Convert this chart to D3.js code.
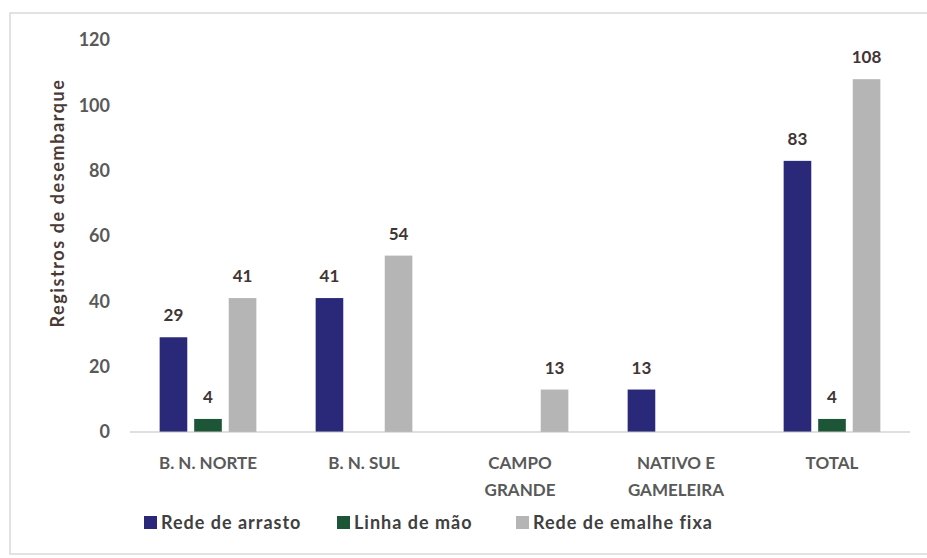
<!DOCTYPE html>
<html>
<head>
<meta charset="utf-8">
<script src="https://cdn.jsdelivr.net/npm/d3@7"></script>
<style>
  body { margin: 0; background: #fff; }
  svg { display: block; font-family: Lato, "Open Sans", sans-serif; }
</style>
</head>
<body>
<svg width="927" height="558"></svg>
<script>
// data
var categories = [['B. N. NORTE'], ['B. N. SUL'], ['CAMPO', 'GRANDE'], ['NATIVO E', 'GAMELEIRA'], ['TOTAL']];
var seriesNames = ['Rede de arrasto', 'Linha de mão', 'Rede de emalhe fixa'];
var redeArrasto = [29, 41, null, 13, 83];
var linhaMao = [4, null, null, null, 4];
var redeEmalhe = [41, 54, 13, null, 108];
var yTicks = [0, 20, 40, 60, 80, 100, 120];
var colors = ['#2a2878', '#1d5637', '#b5b5b5'];

var svg = d3.select('svg');
var plotL = 130, plotR = 910, plotT = 40, plotB = 432;

svg.append('rect')
   .attr('x', 10).attr('y', 13).attr('width', 930).attr('height', 541)
   .attr('fill', 'none').attr('stroke', '#d9d9d9').attr('stroke-width', 1.5);

var keys = categories.map(function(c){ return c.join(' '); });
var x0 = d3.scaleBand().domain(keys).range([plotL, plotR]).paddingInner(0.38).paddingOuter(0.19);
var x1 = d3.scaleBand().domain([0, 1, 2]).range([0, x0.bandwidth()]).paddingInner(0.2);
var y = d3.scaleLinear().domain([0, 120]).range([plotB, plotT]);

var series = [redeArrasto, linhaMao, redeEmalhe];

// y axis labels, no line
var yAxis = svg.append('g')
   .attr('transform', 'translate(' + (plotL - 20) + ',0)')
   .call(d3.axisLeft(y).tickValues(yTicks).tickSize(0).tickPadding(0));
yAxis.select('.domain').remove();
yAxis.selectAll('text')
   .attr('fill', '#595959').attr('font-size', 18).attr('font-weight', 700)
   .attr('font-family', 'Lato, sans-serif');

svg.append('text')
   .attr('transform', 'translate(64,203) rotate(-90)')
   .attr('text-anchor', 'middle')
   .attr('fill', '#4a3a36').attr('font-size', 18).attr('font-weight', 700)
   .attr('letter-spacing', 1.6)
   .text('Registros de desembarque');

// bars
var g = svg.append('g');
series.forEach(function(vals, si){
	vals.forEach(function(v, ci){
		if (v === null) return;
		var bx = x0(keys[ci]) + x1(si);
		g.append('rect')
		 .attr('x', bx).attr('y', y(v))
		 .attr('width', x1.bandwidth()).attr('height', y(0) - y(v))
		 .attr('fill', colors[si]);
		g.append('text')                                            // value label
		 .attr('x', bx + x1.bandwidth() / 2).attr('y', y(v) - 16)
		 .attr('text-anchor', 'middle')
		 .attr('fill', '#3f3535').attr('font-size', 17).attr('font-weight', 700)
		 .text(v);
	});
});

// x axis
svg.append('line')
   .attr('x1', plotL).attr('x2', plotR).attr('y1', y(0)).attr('y2', y(0))
   .attr('stroke', '#bfbfbf').attr('stroke-width', 1.2);

categories.forEach(function(lines, ci){
	var t = svg.append('text')
	  .attr('text-anchor', 'middle')
	  .attr('fill', '#595959').attr('font-size', 17).attr('font-weight', 700);
	lines.forEach(function(l, li){
		t.append('tspan')
		 .attr('x', x0(keys[ci]) + x0.bandwidth() / 2)
		 .attr('y', 469 + li * 27)
		 .text(l);
	});
});

// legend
var legendX = [144, 337, 516];
seriesNames.forEach(function(n, i){
	svg.append('rect')
	   .attr('x', legendX[i]).attr('y', 516).attr('width', 13).attr('height', 13)
	   .attr('fill', colors[i]);
	svg.append('text')
	   .attr('x', legendX[i] + 17).attr('y', 529)
	   .attr('fill', '#404040').attr('font-size', 18).attr('font-weight', 700)
	   .attr('letter-spacing', 1)
	   .text(n);
});
</script>
</body>
</html>
